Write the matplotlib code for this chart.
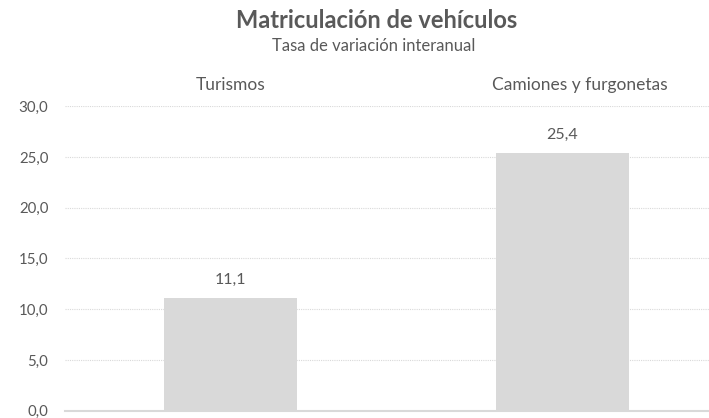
import numpy as np
import matplotlib.pyplot as plt

plt.rcParams['font.family'] = ['Lato', 'DejaVu Sans']

categorias = ["Turismos", "Camiones y furgonetas"]
variacion = [11.1, 25.4]
yticks = [0, 5, 10, 15, 20, 25, 30]

gris_texto = "#595959"
gris_barra = "#d9d9d9"

fig = plt.figure(figsize=(7.09, 4.18), dpi=100)
ax = fig.add_axes([0.0917, 0.0175, 0.9083, 0.7285])

x = np.arange(len(categorias))
ax.bar(x, variacion, width=0.40, color=gris_barra, zorder=2)

for xi, v in zip(x, variacion):
    ax.text(xi, v + 1.8, f"{v:.1f}".replace(".", ","), ha="center", va="center",
            fontsize=11.5, color=gris_texto)

# nombres de categoría encima del área de trazado
pos_cat = [0.0, 1.053]
for p, c in zip(pos_cat, categorias):
    ax.text(p, 1.07, c, transform=ax.get_xaxis_transform(), ha="center", va="center",
            fontsize=12.5, color=gris_texto)

ax.set_xlim(-0.4985, 1.441)
ax.set_ylim(0, 30)
ax.set_yticks(yticks)
ax.set_yticklabels([f"{t:.1f}".replace(".", ",") for t in yticks], fontsize=10.8, color=gris_texto)
ax.tick_params(axis="y", length=0, pad=12)
ax.set_xticks([])

ax.grid(axis="y", color=gris_barra, linestyle=(0, (1, 1)), linewidth=0.8, zorder=0)
for s in ["top", "right", "left"]:
    ax.spines[s].set_visible(False)
ax.spines["bottom"].set_color(gris_barra)
ax.spines["bottom"].set_linewidth(1.5)
ax.spines["bottom"].set_zorder(3)

fig.text(0.531, 0.950, "Matriculación de vehículos", ha="center", va="center",
         fontsize=17, fontweight="bold", color=gris_texto)
fig.text(0.527, 0.889, "Tasa de variación interanual", ha="center", va="center",
         fontsize=12, color=gris_texto)

fig.savefig("out.png", dpi=100)
